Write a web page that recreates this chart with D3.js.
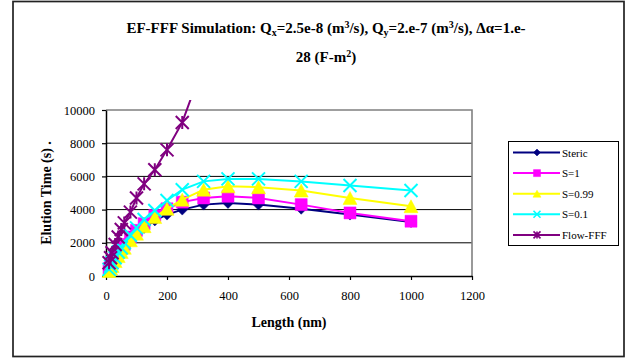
<!DOCTYPE html>
<html>
<head>
<meta charset="utf-8">
<script src="https://cdn.jsdelivr.net/npm/d3@7"></script>
<style>
  body { margin: 0; background: #fff; }
  svg { display: block; }
  text { font-family: "Liberation Serif", "Times New Roman", serif; }
</style>
</head>
<body>
<div id="chart"></div>
<script>
// data
var lengths = [10, 15, 20, 30, 40, 50, 60, 80, 100, 125, 160, 200, 250, 320, 400, 500, 640, 800, 1000];
var steric  = [350, 500, 650, 950, 1200, 1450, 1700, 2100, 2500, 2900, 3350, 3700, 4000, 4300, 4400, 4300, 4050, 3700, 3250];
var s1      = [450, 600, 800, 1100, 1400, 1650, 1900, 2350, 2750, 3150, 3650, 4050, 4450, 4700, 4800, 4700, 4300, 3800, 3300];
var s099    = [300, 450, 600, 900, 1200, 1450, 1700, 2150, 2550, 3000, 3550, 4050, 4600, 5200, 5400, 5350, 5150, 4700, 4200];
var s01     = [400, 600, 800, 1100, 1450, 1700, 2000, 2450, 2900, 3400, 3950, 4550, 5200, 5700, 5850, 5850, 5700, 5450, 5150];
var flowFFF = [800, 1100, 1400, 1900, 2350, 2800, 3200, 3850, 4700, 5550, 6400, 7600, 9250, 12800];
var seriesNames = ["Steric", "S=1", "S=0.99", "S=0.1", "Flow-FFF"];
var xTicks = [0, 200, 400, 600, 800, 1000, 1200];
var yTicks = [0, 2000, 4000, 6000, 8000, 10000];

var colors = ["#000080", "#ff00ff", "#ffff00", "#00ffff", "#800080"];
var markers = ["diamond", "square", "triangle", "cross", "star"];
var allValues = [steric, s1, s099, s01, flowFFF];

var series = seriesNames.map(function(name, i) {
    return {
        name: name,
        color: colors[i],
        marker: markers[i],
        points: allValues[i].map(function(v, j) { return {x: lengths[j], y: v}; })
    };
});

var W = 628, H = 358;
var svg = d3.select("#chart").append("svg")
    .attr("width", W)
    .attr("height", H);

// outer frame
svg.append("rect")
    .attr("x", 13).attr("y", 1.5)
    .attr("width", 611).attr("height", 355)
    .attr("fill", "#fff")
    .attr("stroke", "#222")
    .attr("stroke-width", 1.7);

var x = d3.scaleLinear().domain([0, 1200]).range([106, 472]);
var y = d3.scaleLinear().domain([0, 10000]).range([276, 110]);

// gridlines
svg.append("g").selectAll("line")
    .data(yTicks.filter(function(d) { return d > 0 && d < 10000; }))
    .enter().append("line")
    .attr("x1", x(0)).attr("x2", x(1200))
    .attr("y1", function(d) { return y(d); })
    .attr("y2", function(d) { return y(d); })
    .attr("stroke", "#000")
    .attr("stroke-width", 1);

// plot area border (top / right)
svg.append("path")
    .attr("d", "M" + x(0) + "," + y(10000) + "H" + x(1200) + "V" + y(0))
    .attr("fill", "none")
    .attr("stroke", "#808080")
    .attr("stroke-width", 1.6);

// axes
var xAxis = svg.append("g")
    .attr("transform", "translate(0," + y(0) + ")")
    .call(d3.axisBottom(x).tickValues(xTicks).tickSize(4).tickSizeOuter(0).tickPadding(11).tickFormat(d3.format("d")));
var yAxis = svg.append("g")
    .attr("transform", "translate(" + x(0) + ",0)")
    .call(d3.axisLeft(y).tickValues(yTicks).tickSize(4).tickSizeOuter(0).tickPadding(7).tickFormat(d3.format("d")));

[xAxis, yAxis].forEach(function(a) {
    a.select(".domain").attr("stroke", "#000").attr("stroke-width", 1.5);
    a.selectAll(".tick line").attr("stroke", "#000").attr("stroke-width", 1.2);
    a.selectAll("text")
        .attr("font-family", "'Liberation Serif', 'Times New Roman', serif")
        .attr("font-size", "12.5px")
        .attr("fill", "#000");
});

// clip for lines (the flow line runs a little above the plot)
svg.append("clipPath").attr("id", "clip")
    .append("rect")
    .attr("x", x(0)).attr("y", 100)
    .attr("width", x(1200) - x(0)).attr("height", y(0) - 100 + 20);

var line = d3.line()
    .x(function(d) { return x(d.x); })
    .y(function(d) { return y(d.y); });

function markerPath(type, s) {
    var h = s / 2;
    if (type == "diamond") return "M0," + (-h) + "L" + h + ",0L0," + h + "L" + (-h) + ",0Z";
    if (type == "square") return "M" + (-h) + "," + (-h) + "h" + s + "v" + s + "h" + (-s) + "Z";
    if (type == "triangle") return "M0," + (-h) + "L" + (h + 0.5) + "," + h + "L" + (-h - 0.5) + "," + h + "Z";
    if (type == "cross") return "M" + (-h) + "," + (-h) + "L" + h + "," + h + "M" + h + "," + (-h) + "L" + (-h) + "," + h;
    // star: x plus vertical bar
    return "M" + (-h) + "," + (-h) + "L" + h + "," + h + "M" + h + "," + (-h) + "L" + (-h) + "," + h +
           "M0," + (-h) + "L0," + h;
}

function drawMarker(sel, s, type, color) {
    var filled = (type == "diamond" || type == "square" || type == "triangle");
    sel.append("path")
        .attr("d", markerPath(type, s))
        .attr("fill", filled ? color : "none")
        .attr("stroke", color)
        .attr("stroke-width", filled ? 0.5 : (s > 9 ? 2 : 1.6));
}

var markerSize = {diamond: 11, square: 12, triangle: 13, cross: 13, star: 13};

series.forEach(function(s) {
    svg.append("path")
        .datum(s.points)
        .attr("clip-path", "url(#clip)")
        .attr("d", line)
        .attr("fill", "none")
        .attr("stroke", s.color)
        .attr("stroke-width", 2);

    svg.append("g").selectAll("g")
        .data(s.points.filter(function(d) { return d.y <= 10000; }))
        .enter().append("g")
        .attr("transform", function(d) { return "translate(" + x(d.x) + "," + y(d.y) + ")"; })
        .each(function() { drawMarker(d3.select(this), markerSize[s.marker], s.marker, s.color); });
});

// legend
var legend = svg.append("g");
legend.append("rect")
    .attr("x", 508.5).attr("y", 141.5)
    .attr("width", 110).attr("height", 104)
    .attr("fill", "#fff")
    .attr("stroke", "#000")
    .attr("stroke-width", 1);

var rows = legend.selectAll("g.row")
    .data(series)
    .enter().append("g")
    .attr("class", "row")
    .attr("transform", function(d, i) { return "translate(0," + (152.5 + i * 20.6) + ")"; });

rows.append("line")
    .attr("x1", 513).attr("x2", 560)
    .attr("stroke", function(d) { return d.color; })
    .attr("stroke-width", 2);
rows.each(function(d) {
    var g = d3.select(this).append("g").attr("transform", "translate(537,0)");
    drawMarker(g, 7, d.marker, d.color);
});
rows.append("text")
    .attr("x", 562).attr("y", 4)
    .attr("font-size", "11px")
    .attr("fill", "#000")
    .text(function(d) { return d.name; });

// title
var title = svg.append("text")
    .attr("x", 326).attr("y", 33)
    .attr("text-anchor", "middle")
    .attr("font-size", "15px")
    .attr("font-weight", "bold");
title.append("tspan").text("EF-FFF Simulation: Q");
title.append("tspan").attr("font-size", "10px").attr("dy", 3).text("x");
title.append("tspan").attr("dy", -3).text("=2.5e-8 (m");
title.append("tspan").attr("font-size", "10px").attr("dy", -5).text("3");
title.append("tspan").attr("dy", 5).text("/s), Q");
title.append("tspan").attr("font-size", "10px").attr("dy", 3).text("y");
title.append("tspan").attr("dy", -3).text("=2.e-7 (m");
title.append("tspan").attr("font-size", "10px").attr("dy", -5).text("3");
title.append("tspan").attr("dy", 5).text("/s),  \u0394\u03b1=1.e-");

var title2 = svg.append("text")
    .attr("x", 326).attr("y", 62)
    .attr("text-anchor", "middle")
    .attr("font-size", "15px")
    .attr("font-weight", "bold");
title2.append("tspan").text("28 (F-m");
title2.append("tspan").attr("font-size", "10px").attr("dy", -5).text("2");
title2.append("tspan").attr("dy", 5).text(")");

// axis titles
svg.append("text")
    .attr("x", 289).attr("y", 327)
    .attr("text-anchor", "middle")
    .attr("font-size", "14px")
    .attr("font-weight", "bold")
    .text("Length (nm)");

svg.append("text")
    .attr("transform", "translate(51,193) rotate(-90)")
    .attr("text-anchor", "middle")
    .attr("font-size", "14px")
    .attr("font-weight", "bold")
    .text("Elution Time (s)  .");
</script>
</body>
</html>
